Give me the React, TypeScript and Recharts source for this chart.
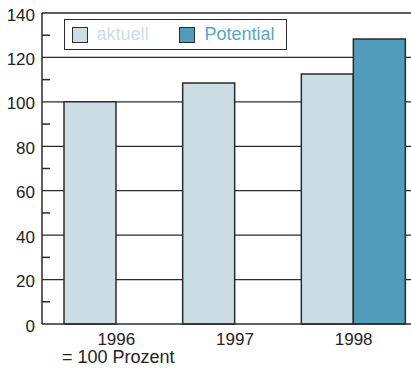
import React from 'react';
import { BarChart, Bar, XAxis, YAxis, CartesianGrid } from 'recharts';

const years = ['1996', '1997', '1998'];
const aktuell = [100, 108.5, 112.5];
const potential = [null, null, 128.3];
const yTicks = [0, 10, 20, 30, 40, 50, 60, 70, 80, 90, 100, 110, 120, 130, 140];
const gridValues = [20, 40, 60, 80, 100, 120, 140];

const FONT = '"Liberation Sans", Arial, Helvetica, sans-serif';
const DARK = '#2b2b2b';
const LIGHT = '#cbdde5';
const TEAL = '#519cba';

const data = years.map((year, i) => ({
  year,
  aktuell: aktuell[i],
  potential: potential[i],
}));

// label on major ticks, short inward tick on the minor ones
const YTick = (props: any) => {
  const { x, y, payload } = props;
  const v = payload.value;
  if (v % 20 !== 0) {
    return <line x1={x + 7} x2={x + 15} y1={y} y2={y} stroke={DARK} strokeWidth={1.5} />;
  }
  return (
    <text x={x} y={y + 1.5} dy="0.355em" textAnchor="end" fill="#222" fontSize={17} fontFamily={FONT}>
      {v}
    </text>
  );
};

const Swatch = ({ color }: { color: string }) => (
  <span
    style={{
      display: 'inline-block',
      width: 16,
      height: 16,
      boxSizing: 'border-box',
      border: `1.5px solid ${DARK}`,
      background: color,
    }}
  />
);

const App: React.FC = () => {
  return (
    <div style={{ position: 'absolute', left: 0, top: 0, width: 411, height: 370, overflow: 'hidden', background: '#fff' }}>
      <BarChart
        width={413}
        height={370}
        data={data}
        margin={{ top: 13, right: 0, left: 0, bottom: 16 }}
        barCategoryGap={7}
        barGap={0}
      >
        <CartesianGrid
          vertical={false}
          horizontalValues={gridValues}
          stroke={DARK}
          strokeWidth={1.3}
        />
        <XAxis
          dataKey="year"
          height={30}
          padding={{ left: 15, right: 0 }}
          tickLine={false}
          tickSize={0}
          tickMargin={9}
          axisLine={{ stroke: DARK, strokeWidth: 1.5 }}
          tick={{ fill: '#222', fontSize: 17, fontFamily: FONT }}
        />
        <YAxis
          width={42}
          domain={[0, 140]}
          ticks={yTicks}
          interval={0}
          tickLine={false}
          tickSize={0}
          tickMargin={7}
          axisLine={{ stroke: DARK, strokeWidth: 1.5 }}
          tick={<YTick />}
        />
        <Bar dataKey="aktuell" fill={LIGHT} stroke={DARK} strokeWidth={1.5} isAnimationActive={false} />
        <Bar dataKey="potential" fill={TEAL} stroke={DARK} strokeWidth={1.5} isAnimationActive={false} />
      </BarChart>

      <div
        style={{
          position: 'absolute',
          left: 64,
          top: 19,
          width: 223,
          height: 31,
          boxSizing: 'border-box',
          border: `1.5px solid ${DARK}`,
          background: '#fff',
          display: 'flex',
          alignItems: 'center',
          paddingLeft: 6.5,
          fontFamily: FONT,
          fontSize: 18,
        }}
      >
        <Swatch color={LIGHT} />
        <span style={{ marginLeft: 9, color: LIGHT }}>aktuell</span>
        <span style={{ marginLeft: 30, display: 'inline-flex' }}>
          <Swatch color={TEAL} />
        </span>
        <span style={{ marginLeft: 10, color: '#5aa6c5' }}>Potential</span>
      </div>

      <div
        style={{
          position: 'absolute',
          left: 62,
          top: 347.5,
          fontFamily: FONT,
          fontSize: 18,
          lineHeight: '18px',
          color: '#222',
          whiteSpace: 'nowrap',
        }}
      >
        = 100 Prozent
      </div>
    </div>
  );
};

export default App;
